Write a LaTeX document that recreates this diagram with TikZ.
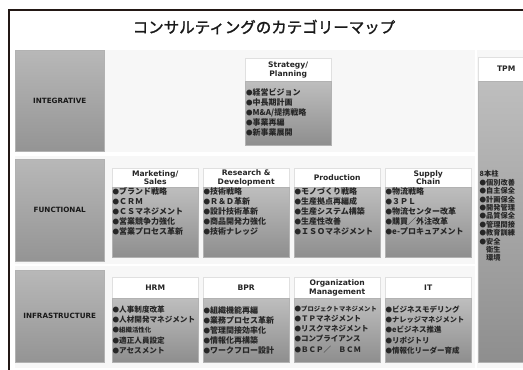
\documentclass[tikz,border=0pt]{standalone}
\usepackage{fontspec}
\setmainfont{DejaVu Sans}
\newfontfamily\jp{Noto Sans CJK JP}
\newfontfamily\jpt[FakeBold=1.5]{Noto Sans CJK JP}
\usetikzlibrary{shadows}
\definecolor{framec}{HTML}{231815}
\definecolor{bandc}{HTML}{F7F7F7}
\definecolor{gtop}{HTML}{BEBEBE}
\definecolor{gbot}{HTML}{8E8E8E}
\definecolor{ltop}{HTML}{B8B8B8}
\definecolor{lbot}{HTML}{949494}
\newcommand\bl{{\fontsize{6.5}{6}\selectfont ●}}
\newcommand\cbox[6]{%
  \node[hdr, minimum width=86pt, minimum height={(#4-#3)*1pt}] (#1h) at (#2,#3) {#6};
  \node[body, minimum width=86pt, minimum height={(#5-#4)*1pt}] (#1b) at (#2,#4) {};
}
\tikzset{
  bandbg/.style={fill=bandc, draw=none},
  shad/.style={drop shadow={shadow xshift=0.9pt, shadow yshift=-0.9pt, opacity=0.3}},
  lab/.style={anchor=north west, top color=ltop, bottom color=lbot, draw=black!30, line width=0.4pt, shad,
    font=\bfseries\fontsize{7.2}{8}\selectfont, text=black!90, inner sep=0pt},
  hdr/.style={anchor=north west, fill=white, draw=black!12, line width=0.4pt,
    font=\bfseries\fontsize{7.6}{8.8}\selectfont, align=center, inner sep=0pt, text=black!85},
  body/.style={anchor=north west, top color=gtop, bottom color=gbot, draw=black!30, line width=0.4pt, shad, inner sep=0pt},
  items/.style={anchor=north west, align=left, inner sep=0pt, font=\jp\bfseries\fontsize{8}{10.1}\selectfont, text=black!85},
}
\begin{document}
\begin{tikzpicture}[x=1pt,y=-1pt]
\useasboundingbox (0,0) rectangle (523,370);
\clip (0,0) rectangle (523,370);
% frame
\draw[framec, line width=1.6pt] (9,371) -- (9,10) -- (530,10);
% title
\node[font=\jpt\fontsize{15.5}{16}\selectfont, text=black!90] (title) at (264,27) {コンサルティングのカテゴリーマップ};
% bands
\fill[bandc] (15,50) rectangle (475,152);
\fill[bandc] (15,156) rectangle (475,264);
\fill[bandc] (15,266) rectangle (475,368);
\fill[bandc] (477,50) rectangle (540,368);
% row labels
\node[lab, minimum width=89pt, minimum height=101pt] (integ) at (15,50) {INTEGRATIVE};
\node[lab, minimum width=89pt, minimum height=102pt] (func) at (15,159) {FUNCTIONAL};
\node[lab, minimum width=89pt, minimum height=92pt] (infra) at (15,270) {INFRASTRUCTURE};
% row 1
\cbox{st}{245}{58}{81}{145}{Strategy/\\Planning}
\node[items] (sti) at (246,88) {\bl 経営ビジョン\\\bl 中長期計画\\\bl M\&A/提携戦略\\\bl 事業再編\\\bl 新事業展開};
% row 2
\cbox{mk}{112}{168}{187}{257}{Marketing/\\Sales}
\cbox{rd}{203}{168}{187}{257}{Research \&\\Development}
\cbox{pr}{294}{168}{187}{257}{Production}
\cbox{sc}{385}{168}{187}{257}{Supply\\Chain}
\node[items] (mki) at (112.5,187) {\bl ブランド戦略\\\bl ＣＲＭ\\\bl ＣＳマネジメント\\\bl 営業競争力強化\\\bl 営業プロセス革新};
\node[items] (rdi) at (203.5,187) {\bl 技術戦略\\\bl Ｒ＆Ｄ革新\\\bl 設計技術革新\\\bl 商品開発力強化\\\bl 技術ナレッジ};
\node[items] (pri) at (294.5,187) {\bl モノづくり戦略\\\bl 生産拠点再編成\\\bl 生産システム構築\\\bl 生産性改善\\\bl ＩＳＯマネジメント};
\node[items] (sci) at (385.5,187) {\bl 物流戦略\\\bl ３ＰＬ\\\bl 物流センター改革\\\bl 購買／外注改革\\\bl e-プロキュアメント};
% row 3
\cbox{hr}{112}{277}{298}{362}{HRM}
\cbox{bp}{203}{277}{298}{362}{BPR}
\cbox{om}{294}{277}{298}{362}{Organization\\Management}
\cbox{it}{385}{277}{298}{362}{IT}
\node[items, font=\jp\bfseries\fontsize{7.6}{10.1}\selectfont] (hri) at (112.5,306) {\bl 人事制度改革\\\bl 人材開発マネジメント\\{\fontsize{6.4}{10.1}\selectfont\bl 組織活性化}\\\bl 適正人員設定\\\bl アセスメント};
\node[items] (bpi) at (203.5,306) {\bl 組織機能再編\\\bl 業務プロセス革新\\\bl 管理間接効率化\\\bl 情報化再構築\\\bl ワークフロー設計};
\node[items, font=\jp\bfseries\fontsize{7.5}{10.1}\selectfont] (omi) at (294.5,306) {{\fontsize{6.3}{10.1}\selectfont\bl プロジェクトマネジメント}\\\bl ＴＰマネジメント\\\bl リスクマネジメント\\\bl コンプライアンス\\\bl ＢＣＰ／　ＢＣＭ};
\node[items, font=\jp\bfseries\fontsize{7.5}{10.1}\selectfont] (iti) at (385.5,306) {\bl ビジネスモデリング\\{\fontsize{7.2}{10.1}\selectfont\bl ナレッジマネジメント}\\\bl eビジネス推進\\\bl リポジトリ\\\bl 情報化リーダー育成};
% TPM column
\node[hdr, minimum width=56pt, minimum height=24pt] (tpmh) at (478,57) {TPM};
\node[body, minimum width=56pt, minimum height=281pt] (tpmb) at (478,81) {};
\node[items, font=\jp\bfseries\fontsize{7.2}{8.4}\selectfont] (tpmi) at (479.5,170.5) {8本柱\\\bl 個別改善\\\bl 自主保全\\\bl 計画保全\\\bl 開発管理\\\bl 品質保全\\\bl 管理間接\\\bl 教育訓練\\\bl 安全\\\hphantom{\bl}衛生\\\hphantom{\bl}環境};
\end{tikzpicture}
\end{document}
